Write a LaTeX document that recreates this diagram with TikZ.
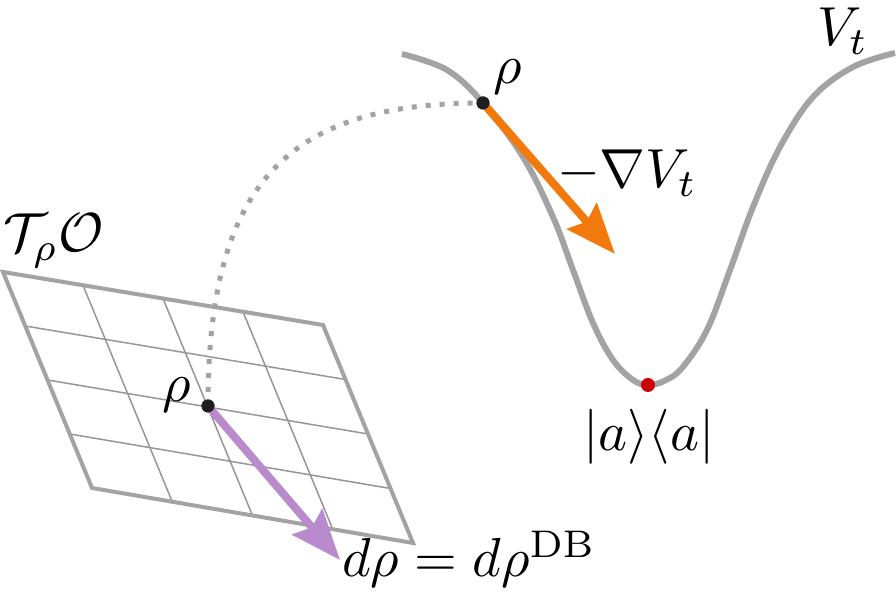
\documentclass[tikz,border=0pt]{standalone}
\usetikzlibrary{calc,arrows.meta}
\definecolor{cgrey}{RGB}{163,163,163}
\definecolor{cgrid}{RGB}{150,150,150}
\definecolor{corange}{RGB}{242,122,12}
\definecolor{cpurple}{RGB}{185,138,204}
\definecolor{cdot}{RGB}{30,30,30}
\definecolor{cred}{RGB}{204,0,0}
\begin{document}
\begin{tikzpicture}[x=0.2pt,y=-0.2pt,
  frame/.style={draw=cgrey,line width=0.8pt,line join=miter},
  gridline/.style={draw=cgrid,line width=0.3pt},
  curve/.style={draw=cgrey,line width=1.2pt},
  dotpath/.style={draw=cgrey,line width=1pt,dash pattern=on 1pt off 1.8pt},
  dot/.style={circle,fill=cdot,inner sep=0pt,minimum size=2.6pt},
  reddot/.style={circle,fill=cred,inner sep=0pt,minimum size=2.8pt},
  vec/.style={line width=1.6pt,-{Stealth[length=10pt,width=7.8pt,inset=1.4pt]}},
  lbl/.style={inner sep=0pt,scale=1.1}
]
\useasboundingbox (0,0) rectangle (896,596);
% tangent plane
\coordinate (TL) at (3,272);
\coordinate (TR) at (323,325);
\coordinate (BL) at (92,488);
\coordinate (BR) at (413,543);
\foreach \i in {1,2,3}{
  \draw[gridline] ($(TL)!\i/4!(TR)$) -- ($(BL)!\i/4!(BR)$);
  \draw[gridline] ($(TL)!\i/4!(BL)$) -- ($(TR)!\i/4!(BR)$);
}
\draw[frame] (TL) -- (TR) -- (BR) -- (BL) -- cycle;
% potential curve
\draw[curve] plot[smooth,tension=0.6] coordinates {(402,54) (447,70) (483,103) (523,157) (553,217) (573,270) (593,323) (613,360) (633,380) (648,385) (664,381) (682,368) (707,330) (730,270) (753,207) (780,147) (813,97) (853,67) (895,53)};
% points
\node[dot] (rhoP) at (208,406) {};
\node[dot] (rhoV) at (483,103) {};
\node[reddot] (amin) at (648,385) {};
\coordinate (tipP) at (340,560);
\coordinate (tipV) at (615,254);
% dotted connection
\draw[dotpath] (rhoP.center) .. controls (208,180) and (290,103) .. (rhoV.center);
% vectors
\draw[vec,cpurple] (rhoP.center) -- (tipP);
\draw[vec,corange] (rhoV.center) -- (tipV);
% redraw dots on top
\node[dot] at (rhoP) {};
\node[dot] at (rhoV) {};
% labels
\node[lbl,anchor=base west] (lT) at (2,252) {$\mathcal{T}_\rho\mathcal{O}$};
\node[lbl] (lrhoP) at (177,395) {$\rho$};
\node[lbl] (lrhoV) at (508,77) {$\rho$};
\node[lbl,anchor=base west] (lgrad) at (556,188) {$-\nabla V_t$};
\node[lbl] (lamin) at (649,437) {$|a\rangle\langle a|$};
\node[lbl,anchor=base west] (ldrho) at (341,577) {$d\rho = d\rho^{\mathrm{DB}}$};
\node[lbl,anchor=base west] (lV) at (816,46) {$V_t$};
\end{tikzpicture}
\end{document}
